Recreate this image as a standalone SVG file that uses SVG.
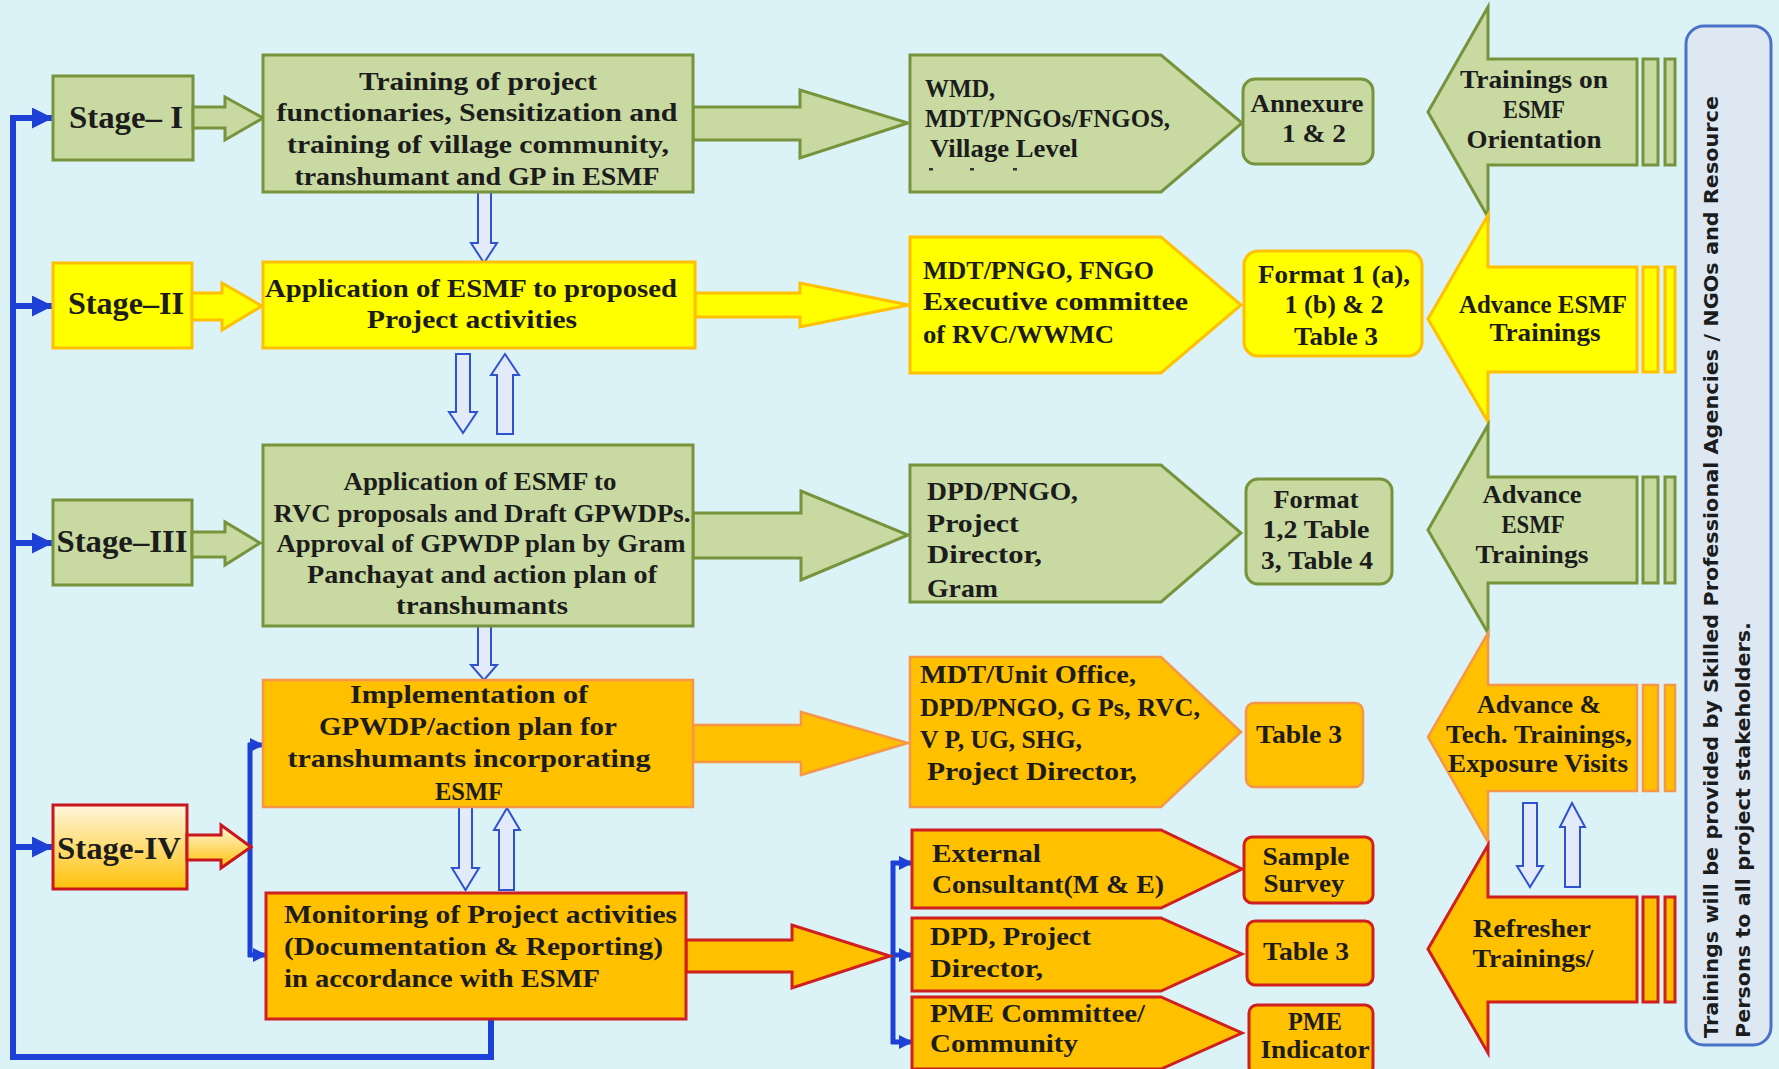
<svg xmlns="http://www.w3.org/2000/svg" width="1779" height="1069" viewBox="0 0 1779 1069">
<defs>
<style>
.t{font-family:"Liberation Serif","Times New Roman",serif;font-weight:bold;font-size:26px;fill:#1c1c1c}
.c{text-anchor:middle}
.st{font-size:32px}
.green{fill:#c8daa2;stroke:#77933c;stroke-width:3}
.yel{fill:#ffff00;stroke:#ffc000;stroke-width:3}
.org{fill:#ffc000;stroke:#f79646;stroke-width:2.5}
.red{fill:#ffc000;stroke:#d01f1f;stroke-width:3}
.s4{fill:url(#g4);stroke:#c8161d;stroke-width:3}
.hol{fill:#e3ebfb;stroke:#2f52d0;stroke-width:2}
.blue{fill:none;stroke:#1d41d6;stroke-width:6}
.blue2{fill:none;stroke:#1d41d6;stroke-width:5}
.vt{font-family:"DejaVu Sans","Verdana",sans-serif;font-weight:bold;font-size:20px;fill:#1c1c1c}
</style>
<linearGradient id="g4" x1="0" y1="0" x2="0" y2="1">
<stop offset="0" stop-color="#fff6dc"/>
<stop offset="1" stop-color="#ffc20a"/>
</linearGradient>
<marker id="ah" viewBox="0 0 10 10" refX="10" refY="5" markerUnits="userSpaceOnUse" markerWidth="21" markerHeight="21" orient="auto">
<path d="M0,0 L10,5 L0,10 Z" fill="#1d41d6"/>
</marker>
<marker id="ahs" viewBox="0 0 10 10" refX="10" refY="5" markerUnits="userSpaceOnUse" markerWidth="14" markerHeight="14" orient="auto">
<path d="M0,0 L10,5 L0,10 Z" fill="#1d41d6"/>
</marker>
</defs>
<rect x="0" y="0" width="1779" height="1069" fill="#dbf2f7"/>

<g id="connectors">
<path class="blue" d="M491 1019 V1057 H13 V118 H53" marker-end="url(#ah)"/>
<path class="blue" d="M13 306 H53" marker-end="url(#ah)"/>
<path class="blue" d="M13 543 H53" marker-end="url(#ah)"/>
<path class="blue" d="M13 847 H53" marker-end="url(#ah)"/>
<path class="blue2" d="M250 743 V957"/>
<path class="blue2" d="M248 745 H264" marker-end="url(#ahs)"/>
<path class="blue2" d="M248 955 H267" marker-end="url(#ahs)"/>
<path class="blue2" d="M893 861 V1044"/>
<path class="blue2" d="M891 863 H913" marker-end="url(#ahs)"/>
<path class="blue2" d="M891 955 H913" marker-end="url(#ahs)"/>
<path class="blue2" d="M891 1042 H913" marker-end="url(#ahs)"/>
<polygon class="hol" points="478,192 491,192 491,243 497,243 484,263 471,243 478,243"/>
<polygon class="hol" points="456,354 470,354 470,412 477,412 463,433 449,412 456,412"/>
<polygon class="hol" points="505,354 519,375 513,375 513,434 497,434 497,375 491,375"/>
<polygon class="hol" points="478,626 491,626 491,665 497,665 484,680 471,665 478,665"/>
<polygon class="hol" points="459,807 472,807 472,868 479,868 465.5,890 452,868 459,868"/>
<polygon class="hol" points="507,808 520,830 514,830 514,890 499,890 499,830 494,830"/>
<polygon class="hol" points="1523,803 1537,803 1537,866 1543,866 1530,887 1517,866 1523,866"/>
<polygon class="hol" points="1572,803 1585,827 1580,827 1580,887 1565,887 1565,827 1560,827"/>
</g>

<g id="stage1">
<rect class="green" x="53" y="76" width="140" height="84"/>
<polygon class="green" points="193,107 225,107 225,97 263,118 225,140 225,128 193,128"/>
<text class="t st c" x="126" y="128" textLength="114" lengthAdjust="spacingAndGlyphs">Stage– I</text>
</g>
<g id="stage2">
<rect class="yel" x="53" y="263" width="139" height="85"/>
<polygon class="yel" points="192,293 222,293 222,283 262,306 222,330 222,320 192,320"/>
<text class="t st c" x="126" y="314" textLength="116" lengthAdjust="spacingAndGlyphs">Stage–II</text>
</g>
<g id="stage3">
<rect class="green" x="53" y="500" width="139" height="85"/>
<polygon class="green" points="192,532 225,532 225,522 260,543 225,565 225,557 192,557"/>
<text class="t st c" x="122" y="552" textLength="131" lengthAdjust="spacingAndGlyphs">Stage–III</text>
</g>
<g id="stage4">
<rect class="s4" x="53" y="805" width="134" height="84"/>
<polygon class="s4" points="187,835 221,835 221,825 251,847 221,868 221,860 187,860"/>
<text class="t st c" x="119" y="859" textLength="124" lengthAdjust="spacingAndGlyphs">Stage-IV</text>
</g>

<g id="box-training">
<polygon class="green" points="693,107 800,107 800,90 908,123 800,158 800,140 693,140"/>
<rect class="green" x="263" y="55" width="430" height="137"/>
<text class="t c" x="478" y="90" textLength="238" lengthAdjust="spacingAndGlyphs">Training of project</text>
<text class="t c" x="477" y="121" textLength="401" lengthAdjust="spacingAndGlyphs">functionaries, Sensitization and</text>
<text class="t c" x="478" y="153" textLength="382" lengthAdjust="spacingAndGlyphs">training of village community,</text>
<text class="t c" x="477" y="185" textLength="365" lengthAdjust="spacingAndGlyphs">transhumant and GP in ESMF</text>
</g>
<g id="box-application">
<polygon class="yel" points="695,293 800,293 800,283 909,305 800,327 800,317 695,317"/>
<rect class="yel" x="263" y="262" width="432" height="86"/>
<text class="t c" x="471" y="297" textLength="412" lengthAdjust="spacingAndGlyphs">Application of ESMF to proposed</text>
<text class="t c" x="472" y="328" textLength="210" lengthAdjust="spacingAndGlyphs">Project activities</text>
</g>
<g id="box-rvc">
<polygon class="green" points="693,513 801,513 801,491 908,535 801,580 801,558 693,558"/>
<rect class="green" x="263" y="445" width="430" height="181"/>
<text class="t c" x="480" y="490" textLength="273" lengthAdjust="spacingAndGlyphs">Application of ESMF to</text>
<text class="t c" x="482" y="522" textLength="417" lengthAdjust="spacingAndGlyphs">RVC proposals and Draft GPWDPs.</text>
<text class="t c" x="481" y="552" textLength="409" lengthAdjust="spacingAndGlyphs">Approval of GPWDP plan by Gram</text>
<text class="t c" x="482" y="583" textLength="350" lengthAdjust="spacingAndGlyphs">Panchayat and action plan of</text>
<text class="t c" x="482" y="614" textLength="172" lengthAdjust="spacingAndGlyphs">transhumants</text>
</g>
<g id="box-implementation">
<polygon class="org" points="693,725 801,725 801,712 908,743 801,775 801,762 693,762"/>
<rect class="org" x="263" y="680" width="430" height="127"/>
<text class="t c" x="469" y="703" textLength="238" lengthAdjust="spacingAndGlyphs">Implementation of</text>
<text class="t c" x="468" y="735" textLength="298" lengthAdjust="spacingAndGlyphs">GPWDP/action plan for</text>
<text class="t c" x="469" y="767" textLength="363" lengthAdjust="spacingAndGlyphs">transhumants incorporating</text>
<text class="t c" x="469" y="800" textLength="68" lengthAdjust="spacingAndGlyphs">ESMF</text>
</g>
<g id="box-monitoring">
<polygon class="red" points="686,940 792,940 792,925 890,956 792,988 792,972 686,972"/>
<rect class="red" x="266" y="893" width="420" height="126"/>
<text class="t" x="284" y="923" textLength="393" lengthAdjust="spacingAndGlyphs">Monitoring of Project activities</text>
<text class="t" x="284" y="955" textLength="379" lengthAdjust="spacingAndGlyphs">(Documentation &amp; Reporting)</text>
<text class="t" x="284" y="987" textLength="316" lengthAdjust="spacingAndGlyphs">in accordance with ESMF</text>
</g>

<g id="agency-1">
<polygon class="green" points="910,55 1161,55 1242,123 1161,192 910,192"/>
<text class="t" x="925" y="97" textLength="70" lengthAdjust="spacingAndGlyphs">WMD,</text>
<text class="t" x="925" y="127" textLength="245" lengthAdjust="spacingAndGlyphs">MDT/PNGOs/FNGOS,</text>
<text class="t" x="930" y="157" textLength="148" lengthAdjust="spacingAndGlyphs">Village Level</text>
<rect x="929" y="168" width="4" height="2.5" fill="#333"/>
<rect x="970" y="168" width="4" height="2.5" fill="#333"/>
<rect x="1013" y="168" width="4" height="2.5" fill="#333"/>
</g>
<g id="agency-2">
<polygon class="yel" points="910,237 1161,237 1241,305 1161,373 910,373"/>
<text class="t" x="923" y="279" textLength="231" lengthAdjust="spacingAndGlyphs">MDT/PNGO, FNGO</text>
<text class="t" x="923" y="310" textLength="265" lengthAdjust="spacingAndGlyphs">Executive committee</text>
<text class="t" x="923" y="343" textLength="191" lengthAdjust="spacingAndGlyphs">of RVC/WWMC</text>
</g>
<g id="agency-3">
<polygon class="green" points="910,465 1161,465 1241,533 1161,602 910,602"/>
<text class="t" x="927" y="500" textLength="151" lengthAdjust="spacingAndGlyphs">DPD/PNGO,</text>
<text class="t" x="927" y="532" textLength="92" lengthAdjust="spacingAndGlyphs">Project</text>
<text class="t" x="927" y="563" textLength="115" lengthAdjust="spacingAndGlyphs">Director,</text>
<text class="t" x="927" y="597" textLength="71" lengthAdjust="spacingAndGlyphs">Gram</text>
</g>
<g id="agency-4">
<polygon class="org" points="910,657 1161,657 1241,732 1161,807 910,807"/>
<text class="t" x="920" y="683" textLength="216" lengthAdjust="spacingAndGlyphs">MDT/Unit Office,</text>
<text class="t" x="920" y="716" textLength="280" lengthAdjust="spacingAndGlyphs">DPD/PNGO, G Ps, RVC,</text>
<text class="t" x="920" y="748" textLength="162" lengthAdjust="spacingAndGlyphs">V P, UG, SHG,</text>
<text class="t" x="927" y="780" textLength="210" lengthAdjust="spacingAndGlyphs">Project Director,</text>
</g>
<g id="agency-5">
<polygon class="red" points="912,830 1161,830 1242,869 1161,908 912,908"/>
<text class="t" x="932" y="862" textLength="109" lengthAdjust="spacingAndGlyphs">External</text>
<text class="t" x="932" y="893" textLength="232" lengthAdjust="spacingAndGlyphs">Consultant(M &amp; E)</text>
</g>
<g id="agency-6">
<polygon class="red" points="912,918 1161,918 1242,954 1161,991 912,991"/>
<text class="t" x="930" y="945" textLength="161" lengthAdjust="spacingAndGlyphs">DPD, Project</text>
<text class="t" x="930" y="977" textLength="113" lengthAdjust="spacingAndGlyphs">Director,</text>
</g>
<g id="agency-7">
<polygon class="red" points="912,997 1161,997 1242,1033 1161,1069 912,1069"/>
<text class="t" x="930" y="1022" textLength="215" lengthAdjust="spacingAndGlyphs">PME Committee/</text>
<text class="t" x="930" y="1052" textLength="148" lengthAdjust="spacingAndGlyphs">Community</text>
</g>

<g id="doc-1">
<rect class="green" x="1243" y="79" width="130" height="85" rx="12"/>
<text class="t c" x="1307" y="112" textLength="113" lengthAdjust="spacingAndGlyphs">Annexure</text>
<text class="t c" x="1314" y="142" textLength="64" lengthAdjust="spacingAndGlyphs">1 &amp; 2</text>
</g>
<g id="doc-2">
<rect class="yel" x="1244" y="251" width="178" height="105" rx="14"/>
<text class="t c" x="1334" y="283" textLength="152" lengthAdjust="spacingAndGlyphs">Format 1 (a),</text>
<text class="t c" x="1334" y="313" textLength="99" lengthAdjust="spacingAndGlyphs">1 (b) &amp; 2</text>
<text class="t c" x="1336" y="345" textLength="84" lengthAdjust="spacingAndGlyphs">Table 3</text>
</g>
<g id="doc-3">
<rect class="green" x="1246" y="479" width="146" height="105" rx="12"/>
<text class="t c" x="1316" y="508" textLength="85" lengthAdjust="spacingAndGlyphs">Format</text>
<text class="t c" x="1316" y="538" textLength="107" lengthAdjust="spacingAndGlyphs">1,2 Table</text>
<text class="t c" x="1317" y="569" textLength="112" lengthAdjust="spacingAndGlyphs">3, Table 4</text>
</g>
<g id="doc-4">
<rect class="org" x="1246" y="703" width="117" height="84" rx="8"/>
<text class="t c" x="1299" y="743" textLength="86" lengthAdjust="spacingAndGlyphs">Table 3</text>
</g>
<g id="doc-5">
<rect class="red" x="1244" y="837" width="129" height="66" rx="8"/>
<text class="t c" x="1306" y="865" textLength="87" lengthAdjust="spacingAndGlyphs">Sample</text>
<text class="t c" x="1304" y="892" textLength="81" lengthAdjust="spacingAndGlyphs">Survey</text>
</g>
<g id="doc-6">
<rect class="red" x="1247" y="921" width="126" height="64" rx="8"/>
<text class="t c" x="1306" y="960" textLength="86" lengthAdjust="spacingAndGlyphs">Table 3</text>
</g>
<g id="doc-7">
<rect class="red" x="1249" y="1005" width="124" height="70" rx="8"/>
<text class="t c" x="1315" y="1030" textLength="54" lengthAdjust="spacingAndGlyphs">PME</text>
<text class="t c" x="1315" y="1058" textLength="109" lengthAdjust="spacingAndGlyphs">Indicator</text>
</g>

<g id="training-1">
<polygon class="green" points="1428,112 1488,7 1488,59 1637,59 1637,165 1488,165 1488,217"/>
<rect class="green" x="1643" y="59" width="15" height="106"/>
<rect class="green" x="1665" y="59" width="10" height="106"/>
<text class="t c" x="1534" y="88" textLength="148" lengthAdjust="spacingAndGlyphs">Trainings on</text>
<text class="t c" x="1534" y="118" textLength="62" lengthAdjust="spacingAndGlyphs">ESMF</text>
<text class="t c" x="1534" y="148" textLength="135" lengthAdjust="spacingAndGlyphs">Orientation</text>
</g>
<g id="training-2">
<polygon class="yel" points="1428,319 1488,215 1488,267 1637,267 1637,372 1488,372 1488,422"/>
<rect class="yel" x="1643" y="267" width="15" height="105"/>
<rect class="yel" x="1665" y="267" width="10" height="105"/>
<text class="t c" x="1543" y="313" textLength="168" lengthAdjust="spacingAndGlyphs">Advance ESMF</text>
<text class="t c" x="1545" y="341" textLength="111" lengthAdjust="spacingAndGlyphs">Trainings</text>
</g>
<g id="training-3">
<polygon class="green" points="1428,530 1488,425 1488,477 1637,477 1637,583 1488,583 1488,633"/>
<rect class="green" x="1643" y="477" width="15" height="106"/>
<rect class="green" x="1665" y="477" width="10" height="106"/>
<text class="t c" x="1532" y="503" textLength="99" lengthAdjust="spacingAndGlyphs">Advance</text>
<text class="t c" x="1533" y="533" textLength="63" lengthAdjust="spacingAndGlyphs">ESMF</text>
<text class="t c" x="1532" y="563" textLength="113" lengthAdjust="spacingAndGlyphs">Trainings</text>
</g>
<g id="training-4">
<polygon class="org" points="1428,737 1488,633 1488,685 1637,685 1637,791 1488,791 1488,842"/>
<rect class="org" x="1643" y="685" width="15" height="106"/>
<rect class="org" x="1665" y="685" width="10" height="106"/>
<text class="t c" x="1539" y="713" textLength="124" lengthAdjust="spacingAndGlyphs">Advance &amp;</text>
<text class="t c" x="1539" y="743" textLength="186" lengthAdjust="spacingAndGlyphs">Tech. Trainings,</text>
<text class="t c" x="1538" y="772" textLength="180" lengthAdjust="spacingAndGlyphs">Exposure Visits</text>
</g>
<g id="training-5">
<polygon class="red" points="1428,949 1488,845 1488,897 1637,897 1637,1002 1488,1002 1488,1053"/>
<rect class="red" x="1643" y="897" width="15" height="105"/>
<rect class="red" x="1665" y="897" width="10" height="105"/>
<text class="t c" x="1532" y="937" textLength="118" lengthAdjust="spacingAndGlyphs">Refresher</text>
<text class="t c" x="1533" y="967" textLength="121" lengthAdjust="spacingAndGlyphs">Trainings/</text>
</g>

<g id="note">
<rect x="1686" y="26" width="85" height="1019" rx="18" fill="#dde8f3" stroke="#4a72c6" stroke-width="3"/>
<text class="vt" transform="translate(1718,1038) rotate(-90)" x="0" y="0" textLength="942" lengthAdjust="spacingAndGlyphs">Trainings will be provided by Skilled Professional Agencies / NGOs and Resource</text>
<text class="vt" transform="translate(1750,1038) rotate(-90)" x="0" y="0" textLength="416" lengthAdjust="spacingAndGlyphs">Persons to all project stakeholders.</text>
</g>
</svg>
